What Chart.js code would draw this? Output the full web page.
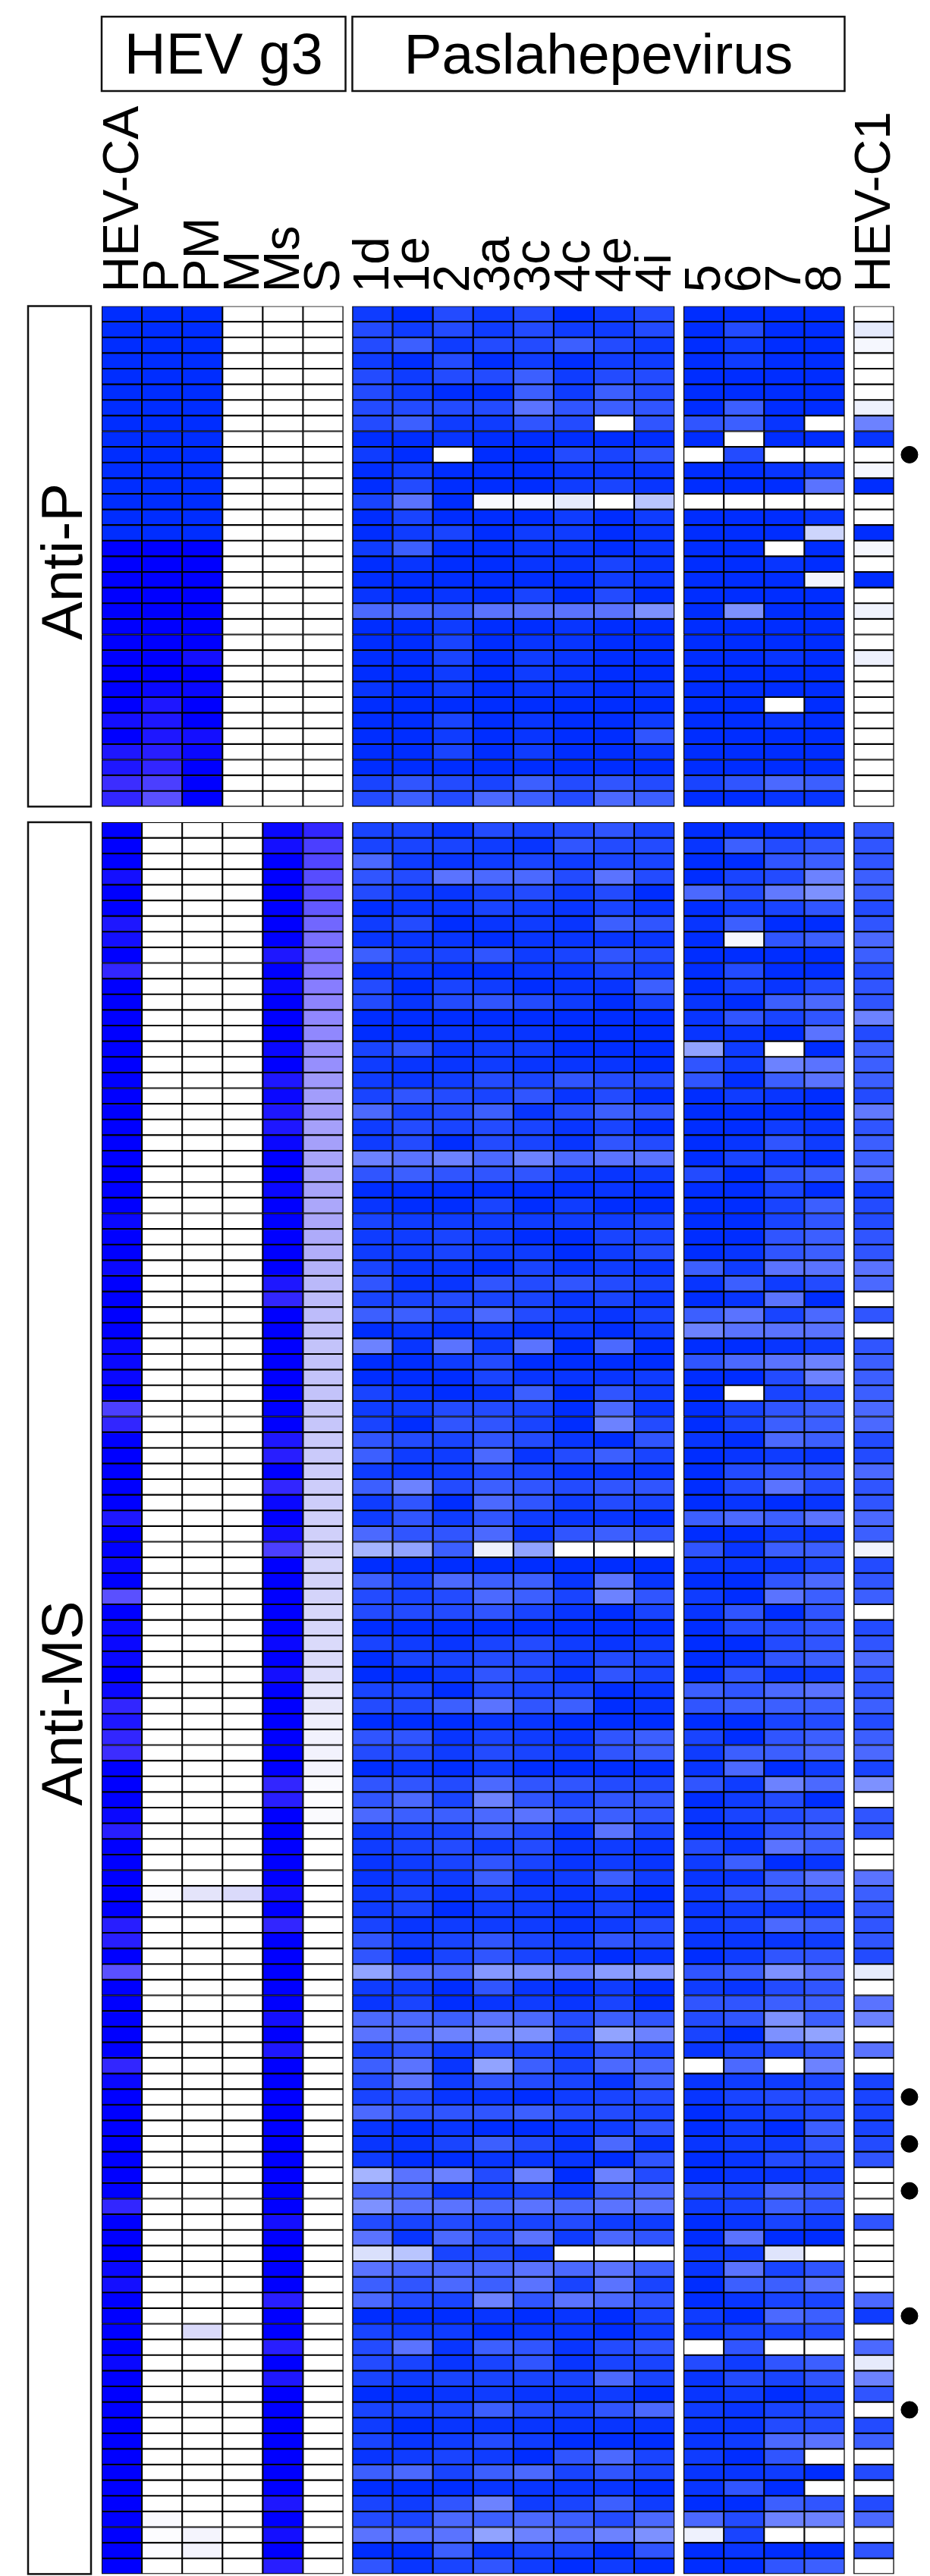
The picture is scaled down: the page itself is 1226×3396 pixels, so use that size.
<!DOCTYPE html>
<html>
<head>
<meta charset="utf-8">
<title>HEV g3 / Paslahepevirus reactivity</title>
<script src="https://cdn.jsdelivr.net/npm/chart.js@4"></script>
<style>
  html, body { margin: 0; padding: 0; background: #fff; }
  canvas { display: block; }
</style>
</head>
<body>
<canvas id="heatChart" width="1226" height="3396"></canvas>
<script>
// column labels, split in the four blocks of the figure
const hevG3Labels = ['HEV-CA', 'P', 'PM', 'M', 'Ms', 'S'];
const paslaLabels = ['1d', '1e', '2', '3a', '3c', '4c', '4e', '4i'];
const otherLabels = ['5', '6', '7', '8'];
const c1Labels = ['HEV-C1'];

// levels: 0 = white, 9 = full signal
const antiPHevCa = [9,9,9,9,9,9,9,9,9,9,9,9,9,9,9,9,9,9,9,9,9,9,9,9,9,9,8,9,7.5,7.5,6,6.5];
const antiPP = [9,9,9,9,9,9,9,9,9,9,9,9,9,9,9,9,9,9,9,9,9,9,9,9,8.5,7.5,7.5,7.5,7,6.5,5.5,5];
const antiPPm = [9,9,9,9,9,9,9,9,9,9,9,9,9,9,9,9,9,9,9,9,9,9,8,9,8.5,9,9,8,8.5,9,9,9];
const antiPBlank = [0,0,0,0,0,0,0,0,0,0,0,0,0,0,0,0,0,0,0,0,0,0,0,0,0,0,0,0,0,0,0,0];

const antiMsHevCa = [
  9,9,9,8,9,9,7.5,8,9,6.5,9,9,9,9,9,9,9,9,9,9,9,9,9,9,9,8.5,9,9,
  8.5,9,9,9,9,8.5,8.5,8.5,9,5.5,6.5,9,9,9,9,9,7.5,9,9,8.5,9,5,9,8.5,8.5,8.5,9,8.5,6.5,
  7.5,6.5,6,9,9,9,8.5,7,9,9,9,9,9,7,7,9,5,9,9,9,9,9,6.5,8.5,9,9,9,9,9,
  9,9,6.5,9,9,9,8.5,8,9,9,9,9,8.5,9,9,9,9,9,9,9,9,9,9,9,9,9
];
const antiMsP = [
  0,0,0,0,0,0,0,0,0,0,0,0,0,0,0,0,0,0,0,0,0,0,0,0,0,0,0,0,
  0,0,0,0,0,0,0,0,0,0,0,0,0,0,0,0,0,0,0,0,0,0,0,0,0,0,0,0,0,
  0,0,0,0,0,0,0,0,0,0,0,0.2,0,0,0,0,0,0,0,0,0,0,0,0,0,0,0,0,0,
  0,0,0,0,0,0,0,0,0,0,0,0,0,0,0,0,0,0,0,0,0,0,0.2,0.1,0.1,0
];
const antiMsPm = [
  0,0,0,0,0,0,0,0,0,0,0,0,0,0,0,0,0,0,0,0,0,0,0,0,0,0,0,0,
  0,0,0,0,0,0,0,0,0,0,0,0,0,0,0,0,0,0,0,0,0,0,0,0,0,0,0,0,0,
  0,0,0,0,0,0,0,0,0,0,0,1,0,0,0,0,0,0,0,0,0,0,0,0,0,0,0,0,0,
  0,0,0,0,0,0,0,0,0,0,1.3,0,0,0,0,0,0,0,0,0,0,0,0,0.4,0.4,0
];
const antiMsM = [
  0,0,0,0,0,0,0,0,0,0,0,0,0,0,0,0,0,0,0,0,0,0,0,0,0,0,0,0,
  0,0,0,0,0,0,0,0,0,0,0,0,0,0,0,0,0,0,0,0,0,0,0,0,0,0,0,0,0,
  0,0,0,0,0,0,0,0,0,0,0,1.3,0,0,0,0,0,0,0,0,0,0,0,0,0,0,0,0,0,
  0,0,0,0,0,0,0,0,0,0,0,0,0,0,0,0,0,0,0,0,0,0,0,0,0,0
];
const antiMsMs = [
  8.5,8,9,9,9,9,9,9,7.5,9,8.5,9,9,9,8.5,9,7.5,8.5,7.5,7.5,8.5,9,9,8.5,9,9,9,9,
  9,7.5,6.5,9,9,9,9,9,9,9,9,7.5,7,9,6.5,8.5,9,8,5.5,9,9,9,9,9,8.5,9,8,9,9,
  9,9,9,9,6.5,7,9,9,9,9,9,8,9,6.5,9,9,9,9,9,8,9,7.5,9,9,9,9,9,9,9,
  9,9,9,8,9,9,9,9,7,9,9,7,9,7.5,9,9,9,9,9,9,9,7.5,9,8,9,7
];
const antiMsS = [
  6.5,5.5,5.3,5.1,5,4.8,4.5,4.3,4.3,4.1,4,3.8,3.7,3.7,3.5,3.5,3.2,3.1,3.1,3,3,2.9,2.9,2.9,2.8,2.8,2.7,2.6,
  2.5,2.3,2.2,2.2,2.1,2,2,2,2,1.9,1.9,1.8,1.8,1.7,1.7,1.7,1.6,1.6,1.6,1.5,1.5,1.5,1.4,1.4,1.3,1.3,1.2,1,0.9,
  0.6,0.5,0.5,0.4,0.2,0.1,0.2,0.05,0,0,0,0,0,0,0,0,0,0,0,0,0,0,0,0,0,0,0,0,0,0,0,
  0,0,0,0,0,0,0,0,0,0,0,0,0,0,0,0,0,0,0,0,0,0,0,0,0,0
];

// rows: 1d 1e 2 3a 3c 4c 4e 4i, 5 6 7 8, HEV-C1
const antiPRows = [
  [8,9,7,8,7,9,8,7, 9,9,9,9, 0],
  [7,8,7,8,7,8,8,7, 9,7,9,9, 1],
  [7,6,8,7,7,6,7,8, 9,8,9,9, 0.4],
  [8,9,7,9,8,9,8,8, 9,8,9,9, 0],
  [7,8,7,7,6,8,7,7, 9,9,9,9, 0],
  [7,8,9,9,6,8,6,7, 9,9,9,9, 0],
  [7,7,7,7,5,6.5,6,6.5, 9,6,9,9, 0.7],
  [7,6,8,8,6.5,7,0,6.5, 6.5,6,8.5,0, 4.5],
  [9,9,8.5,9,9,9,9,9, 9,0,9,9, 8.5],
  [8,9,0,9,9,7,7.5,6.5, 0,7,0,0, 0],
  [9,8,9,9,9,8.5,8.5,8.5, 9,9,8.5,8, 0.4],
  [9,7,9,9,9,8,7.5,8.5, 9,9,9,5, 9],
  [7.5,5,9,0.3,0.3,1,0,2.5, 0,0,0,0, 0],
  [9,7.5,9,9,9,8,9,8, 9,9,9,8.5, 0],
  [9,8,7.5,9,8,8,9,8.5, 9,9,9,2, 9],
  [8,6,9,9,8.5,8.5,9,8.5, 9,9,0,9, 0.4],
  [9,8.5,9,9,8.5,8.5,7.5,8.5, 9,9,8.5,9, 0],
  [9,9,9,9,9,9,8,8.5, 9,9,9,0.5, 9],
  [8.5,9,8.5,9,7.5,9,7,9, 9,9,9,9, 0],
  [5.5,5.5,6,5,5,5,5,4, 9,4,9,9, 0.6],
  [9,9,8,9,9,8.5,9,9, 9,9,9,9, 0],
  [9,9,7.5,9,8.5,8.5,9,9, 9,9,9,9, 0],
  [9,9,7.5,9,8,8.5,9,9, 9,9,8.5,9, 0.7],
  [9,9,8,9,8,8.5,9,9, 9,9,9,9, 0],
  [8.5,9,8,9,8.5,8.5,9,8.5, 9,9,9,9, 0],
  [9,9,9,9,9,9,9,9, 9,9,0,9, 0],
  [9,9,7.5,9,8.5,9,9,8, 9,9,8.5,9, 0],
  [9,9,8,9,8.5,9,9,6.5, 9,9,9,9, 0],
  [9,9,7.5,9,8,9,9,8.5, 9,9,9,9, 0],
  [9,9,9,9,9,9,9,9, 9,9,9,9, 0],
  [7.5,6.5,7,7.5,6,7,6.5,7, 7.5,6.5,5.5,6, 0],
  [7,6,7,5.5,6,7,5.5,6, 9,9,8.5,8.5, 0]
];

const antiMsRows = [
  [7.5,7.5,8.5,7,7.5,7,6.5,7.5, 9,9,9,8.5, 6.5],
  [7.5,7.5,7.5,8,8.5,6.5,7,7, 8.5,6,7,6.5, 6.5],
  [5.5,8,8.5,8,7.5,8,7.5,7.5, 9,9,6.5,6, 6.5],
  [6.5,7,5,5.5,5.5,7,5,7, 9,7.5,7,4.5, 6],
  [7,8,8.5,7.5,7,8,7,9, 5.5,7,4.8,4, 6],
  [9,8.5,8.5,7.5,8,8.5,7.5,8.5, 9,8,7.5,6.5, 7],
  [8,7,9,8.5,8,8.5,6,6.5, 8.5,6,9,9, 6.5],
  [8.5,8.5,8.5,9,8.5,8.5,8.5,8.5, 9,0.4,6.5,6, 5.5],
  [6,7.5,7.5,6.5,8,7.5,6.5,7, 9,9,9,9, 6],
  [9,8.5,9,9,8.5,8.5,7.5,8, 9,7,9,9, 7],
  [7,9,7.5,8,9,8.5,8.5,6, 9,7.5,8.5,7, 6.5],
  [7,8.5,7,6.5,7,8,9,7.5, 8.5,9,6,5.5, 6.5],
  [9,9,9,9,9,9,9,9, 8.5,6.5,7.5,6.5, 4.5],
  [9,9,8.5,8.5,8.5,9,9,9, 8.5,8.5,9,5, 7],
  [7.5,6.5,8.5,8,8,9,9,9, 3.5,8,0,9, 6],
  [8,8.5,8.5,8,8.5,8.5,8.5,9, 6.5,8,4.5,5, 6],
  [8,8.5,8,7,7.5,6.5,7,7, 6.5,9,6,5, 6],
  [7.5,6.5,7,7.5,6.5,8.5,7,9, 9,8,8.5,9, 7],
  [5.5,7.5,7,6,8.5,7,6,6.5, 9,9,9,9, 4.8],
  [8,7,7.5,7,7.5,8.5,7.5,9, 9,9,8,8.5, 6.5],
  [8,7,9,7,7.5,8.5,6.5,7, 9,8.5,6.5,8, 6],
  [4.5,5,4.5,5.5,4.5,5.5,5,5, 9,7.5,8.5,9, 6],
  [6.5,6,6.5,6.5,6.5,8,8.5,8, 7,9,6.5,6, 5],
  [9,9,9,9,9,9,8.5,9, 9,9,7.5,9, 8],
  [8.5,9,9,7.5,9,8,9,9, 9,9,7.5,6, 7],
  [7.5,8,8,8,8,8,8,7.5, 9,9,7.5,6.5, 7],
  [8,8,7.5,8,9,9,7.5,7.5, 9,9,6.5,6, 6.5],
  [8,8,7.5,8,8,9,8,7, 9,8.5,6.5,6, 6.5],
  [7.5,8.5,8.5,9,7.5,8.5,8,8.5, 6,8,5,5, 5],
  [6.5,8.5,8.5,6.5,7,6.5,7,7.5, 8.5,6,8,7, 5.5],
  [7.5,7.5,7,7.5,7.5,8.5,7.5,8.5, 9,8.5,5,9, 0],
  [6,6,7,5.5,7,8,8.5,7.5, 6,5,7.5,5.5, 6.5],
  [9,8.5,9,8.5,9,8.5,9,8, 4.5,5,5,5, 0],
  [4.5,8.5,5,8,5,9,5.5,9, 9,9,8.5,8, 6.5],
  [9,9,8,7,9,9,9,9, 6.5,5.5,5,4.5, 6],
  [9,9,9,7.5,8.5,8.5,8.5,8, 9,9,7,4.5, 6],
  [7.5,8.5,9,8.5,6,9,6.5,8, 9,0,7.5,7, 6],
  [8,8,7,7,7.5,9,5.5,8.5, 9,7.5,6.5,6, 5.5],
  [7.5,9,6.5,6.5,7.5,9,4.5,7, 9,7.5,6,6, 5.5],
  [6.5,7,7.5,6.5,7,8.5,9,6.5, 8.5,9,5.5,6, 7],
  [6,8,8,5.5,8.5,7,6,7.5, 9,8.5,8,8.5, 7],
  [8,8.5,8,7,7.5,8.5,8.5,8.5, 9,7,6.5,6.5, 5.5],
  [6,4.5,7,6,6.5,7,6.5,6.5, 9,7,5,7, 6.5],
  [8,6.5,9,5.5,6.5,8,7,7.5, 9,8.5,9,8.5, 6.5],
  [8,6.5,8,6.5,8,8.5,8.5,9, 6,5.5,6,5, 5.5],
  [5.5,6.5,6.5,5.5,8.5,6.5,6,6.5, 9,9,8,8.5, 6],
  [3,3.5,6,0.7,3.5,0,0,0, 6.5,8.5,6,6, 0.6],
  [9,9,9,9,9,9,9,9, 8.5,8.5,8.5,7.5, 7],
  [6,7.5,5.5,6,6,8.5,5,8.5, 9,9,6.5,5.5, 6.5],
  [7,7.5,7,5.5,6,7.5,4.5,6.5, 8,9,5,6, 6],
  [7,7,7,6.5,7.5,8.5,9,7.5, 8.5,6.5,9,6.5, 0],
  [9,9,9,9,9,9,9,9, 9,7,7,6.5, 7],
  [7.5,8,8.5,7.5,7,8,8.5,8, 9,9,7,6.5, 6.5],
  [9,7.5,7.5,7,7,8,7,7.5, 9,8.5,6.5,6, 5.5],
  [9,9,8,6.5,7,8.5,6.5,7.5, 9,6.5,8.5,8, 6.5],
  [7.5,7.5,9,7,7.5,7.5,9,8.5, 6,6.5,5.5,5, 6.5],
  [7,7,6,5,6.5,6,9,8.5, 6.5,6,6,6, 6],
  [9,9,9,8.5,8.5,9,9,9, 9,9,7.5,7, 7],
  [6.5,6.5,8.5,7.5,8,8.5,6.5,6, 7.5,9,6.5,6, 6],
  [7,7,8,7,7.5,8,6.5,6, 8,6,6,5.5, 5.5],
  [9,8.5,9,8,9,9,9,9, 8.5,5.5,9,8, 7.5],
  [6.5,6.5,7,5.5,6.5,6.5,7,7, 6.5,8,4.5,5.5, 4],
  [6.5,5.5,7.5,4.5,6.5,7.5,6.5,6.5, 9,8,7,9, 0],
  [5.5,6,6,5.5,5,6,6,6.5, 8.5,7.5,7,6.5, 6.5],
  [8,7.5,7.5,6,7,8.5,5,7.5, 9,8.5,6.5,6, 6.5],
  [8,7.5,7,8,7,8.5,8,8.5, 7,8.5,5,6, 0],
  [8.5,8,7.5,6.5,7.5,8.5,8,8.5, 8,6,9,8.5, 0],
  [8.5,8,8,6,8.5,8,6,8, 8.5,8.5,6,5, 5],
  [8,7.5,8.5,7.5,8,8.5,8,9, 8,6.5,6,6, 6],
  [8,7.5,9,8,8,8.5,7.5,8.5, 8.5,8,8.5,8.5, 6.5],
  [7.5,8.5,8,8,8,8.5,8,7, 8,7.5,5.5,6, 6.5],
  [6.5,8,7.5,6.5,7.5,8,6.5,7, 8.5,8.5,8.5,8, 6.5],
  [6.5,9,7.5,6.5,7.5,8,9,8.5, 9,8,6.5,6.5, 7],
  [3.5,5,5.5,3.8,4,4.5,3.7,3.7, 6.5,6,4,5, 1],
  [8,8,9,6.5,8.5,9,8,9, 8,8.5,7,6.5, 0],
  [8.5,7.5,9,8.5,8,8.5,7.5,9, 6.5,6.5,6,6, 5],
  [5.5,5.5,6,5,5.5,7,6,6.5, 7,6.5,4,6, 4.5],
  [5,5,4.5,4,4,6.5,3.5,4.5, 7.5,9,4,3.5, 0],
  [7.5,6.5,8,7,7.5,8,6.5,7.5, 8.5,7.5,7,6.5, 5],
  [6,5,8.5,3.5,6,7.5,5.5,5.5, 0,5.5,0,4.5, 0],
  [7,5,8,6.5,7,7.5,8.5,6, 8.5,8,8,7.5, 7.5],
  [7.5,7,8.5,8.5,9,8,7.5,7, 8.5,7.5,7,7, 7.5],
  [5.5,6.5,6.5,6.5,6,7,7,7.5, 9,8,7.5,7, 7.5],
  [8.5,9,8.5,9,9,8.5,8,6.5, 9,8,9,6, 7.5],
  [8.5,8.5,7.5,6,7,8.5,5.5,8.5, 8.5,8,8,6.5, 7],
  [8,9,9,8.5,8.5,8.5,9,6.5, 9,8.5,7,7, 6.5],
  [3,5,4.5,7,4.5,9,4.5,7, 9,8.5,8.5,8, 0],
  [5.5,6,8.5,8,7.5,8.5,6,5.5, 7,7.5,5.5,6, 0],
  [4,5,5,5.5,5,5.5,5,5, 8,7.5,6,6.5, 0],
  [7,7.5,7,7.5,7.5,7,8,8, 9,8.5,7.5,8, 6.5],
  [5,8.5,5.5,7,5,8,5.5,6.5, 9,5,9,9, 0],
  [1.5,2.5,7.5,7,8,0,0,0, 8,8,1.3,0, 0],
  [5,5.5,5.5,5.5,5,5.5,5,6, 8.5,5,7.5,6.5, 0],
  [6,6.5,5.5,6,5,7.5,5,7.5, 9,6,6,5, 0],
  [5.5,7,7.5,4.5,6.5,5,5.5,6.5, 9,8.5,7.5,7.5, 5.5],
  [9,9,9,8.5,9,8.5,9,7.5, 8,9,5.5,6, 8],
  [7.5,8,8,9,8.5,8.5,9,8, 8.5,7.5,7.5,7, 0],
  [7,5,8.5,6,6.5,8.5,7,6.5, 0,6.5,0,0, 5.5],
  [7,7.5,8.5,7.5,6.5,8.5,7.5,7.5, 7,8,6.5,6, 1],
  [7.5,8,7.5,7.5,7.5,7.5,5.5,7.5, 8.5,7,7.5,6.5, 4.5],
  [9,9,8.5,8,8.5,8.5,8,9, 8.5,8,9,8, 6.5],
  [7.5,7.5,7.5,6,7,7.5,6.5,5.5, 8,8.5,7.5,7, 0],
  [8,9,8.5,8.5,8.5,8.5,8.5,8.5, 8.5,8.5,7,7, 7],
  [7.5,8.5,8,7,8,9,9,9, 8.5,8,5.5,5, 6],
  [8.5,8,7.5,8,9,6.5,5.5,7.5, 8,9,6.5,0, 0],
  [6,5.5,7.5,6,5.5,7.5,6.5,7.5, 8.5,8.5,8,9, 7],
  [9,9,9,8.5,8.5,8.5,8.5,9, 8.5,6.5,9,0, 0],
  [7.5,8,6.5,4.5,8,7.5,6,8, 9,9,6,6.5, 7],
  [7,7.5,5.5,6,5.5,6,7,5.5, 5.5,7,4.5,4.5, 5.5],
  [5,5,5,3.5,4.5,5,4.5,4, 0.7,7.5,0,0, 0],
  [9,9,6,8.5,7.5,7.5,9,6.5, 9,8.5,9,9, 6.5],
  [6.5,8.5,7.5,6.5,8,9,8,9, 9,9,6.5,6, 0]
];

// serum rows flagged with a dot
const antiPDots = [9];
const antiMsDots = [81, 84, 87, 95, 101];

// first rows of anti-P against HEV-CA, P, PM are greener than the rest of that block
const azureRowsAntiP = 15;

const azureStops = [[255,255,255],[230,235,252],[205,213,252],[165,180,255],[125,145,255],[90,115,255],[60,95,255],[35,75,255],[15,60,255],[0,45,255]];
const violetStops = [[255,255,255],[228,228,250],[195,195,250],[165,160,250],[135,125,255],[90,80,255],[60,45,255],[40,30,255],[20,15,255],[0,0,255]];

function levelColor(stops, v) {
  const lo = Math.floor(v), hi = Math.min(9, lo + 1), t = v - lo;
  const c = stops[lo].map((s, i) => Math.round(s + (stops[hi][i] - s) * t));
  return `rgb(${c[0]},${c[1]},${c[2]})`;
}

// y categories: anti-P rows, one empty row, anti-MS rows
const rowLabels = [];
antiPRows.forEach((r, i) => rowLabels.push('P' + (i + 1)));
rowLabels.push('gap');
antiMsRows.forEach((r, i) => rowLabels.push('MS' + (i + 1)));
const msOffset = antiPRows.length + 1;

const antiPG3 = [antiPHevCa, antiPP, antiPPm, antiPBlank, antiPBlank, antiPBlank];
const antiMsG3 = [antiMsHevCa, antiMsP, antiMsPm, antiMsM, antiMsMs, antiMsS];

function g3Dataset(col) {
  return {
    label: hevG3Labels[col],
    data: rowLabels.map((l) => (l === 'gap' ? null : 1)),
    backgroundColor: (ctx) => {
      const i = ctx.dataIndex;
      if (i < antiPRows.length) {
        const stops = (col < 3 && i < azureRowsAntiP) ? azureStops : violetStops;
        return levelColor(stops, antiPG3[col][i]);
      }
      if (i < msOffset) return 'transparent';
      return levelColor(violetStops, antiMsG3[col][i - msOffset]);
    }
  };
}

function cellDataset(label, col) {
  return {
    label: label,
    data: rowLabels.map((l) => (l === 'gap' ? null : 1)),
    backgroundColor: (ctx) => {
      const i = ctx.dataIndex;
      if (i < antiPRows.length) return levelColor(azureStops, antiPRows[i][col]);
      if (i < msOffset) return 'transparent';
      return levelColor(azureStops, antiMsRows[i - msOffset][col]);
    }
  };
}

function spacerDataset(width) {
  return {
    label: 'gap',
    data: rowLabels.map(() => width),
    backgroundColor: 'transparent',
    borderWidth: 0
  };
}

const blockGap = 0.225;
const xMax = 20.57;
const dotX = 20.06;

const barDatasets = [
  ...hevG3Labels.map((l, i) => g3Dataset(i)),
  spacerDataset(blockGap),
  ...paslaLabels.map((l, i) => cellDataset(l, i)),
  spacerDataset(blockGap),
  ...otherLabels.map((l, i) => cellDataset(l, i + 8)),
  spacerDataset(blockGap),
  cellDataset(c1Labels[0], 12)
];

const dotDataset = {
  type: 'scatter',
  label: 'dots',
  indexAxis: 'y',
  stack: 'dots',
  clip: false,
  data: [
    ...antiPDots.map((r) => ({ x: dotX, y: 'P' + (r + 1) })),
    ...antiMsDots.map((r) => ({ x: dotX, y: 'MS' + (r + 1) }))
  ],
  pointRadius: 11,
  backgroundColor: '#000',
  borderColor: '#000'
};

// x positions of the column centres, walking the same stack as the bars
const columnLabels = [];
const columnCentres = [];
let xWalk = 0;
[hevG3Labels, paslaLabels, otherLabels, c1Labels].forEach((block) => {
  block.forEach((l) => {
    columnLabels.push(l);
    columnCentres.push(xWalk + 0.5);
    xWalk += 1;
  });
  xWalk += blockGap;
});

function boxedText(ctx, left, top, right, bottom, text, size, vertical) {
  ctx.save();
  ctx.lineWidth = 2.5;
  ctx.strokeStyle = '#111';
  ctx.strokeRect(left, top, right - left, bottom - top);
  ctx.fillStyle = '#000';
  ctx.font = size + 'px "Liberation Sans", Arial, sans-serif';
  ctx.textAlign = 'center';
  ctx.textBaseline = 'alphabetic';
  if (vertical) {
    // sits a little below the middle of the frame in the original
    ctx.translate((left + right) / 2 + 29.5, (top + bottom) / 2 + 7);
    ctx.rotate(-Math.PI / 2);
    ctx.fillText(text, 0, 0);
  } else {
    ctx.fillText(text, (left + right) / 2, top + 75);
  }
  ctx.restore();
}

const framePlugin = {
  id: 'frames',
  afterDraw(chart) {
    const { ctx, scales } = chart;
    const x = scales.x, y = scales.y;
    const rowH = y.getPixelForValue(1) - y.getPixelForValue(0);
    const pTop = y.getPixelForValue(0) - rowH / 2;
    const pBottom = y.getPixelForValue(antiPRows.length - 1) + rowH / 2;
    const mTop = y.getPixelForValue(msOffset) - rowH / 2;
    const mBottom = y.getPixelForValue(rowLabels.length - 1) + rowH / 2;

    boxedText(ctx, 37, pTop, 120, pBottom, 'Anti-P', 76, true);
    boxedText(ctx, 37, mTop, 120, mBottom, 'Anti-MS', 76, true);
    boxedText(ctx, x.getPixelForValue(0), 22, x.getPixelForValue(6) + 3, 120, 'HEV g3', 76, false);
    boxedText(ctx, x.getPixelForValue(6 + blockGap), 22, x.getPixelForValue(14 + 2 * blockGap + 4), 120, 'Paslahepevirus', 75, false);
  }
};

new Chart(document.getElementById('heatChart'), {
  type: 'bar',
  data: {
    labels: rowLabels,
    datasets: [...barDatasets, dotDataset]
  },
  options: {
    indexAxis: 'y',
    responsive: false,
    animation: false,
    devicePixelRatio: 1,
    layout: { autoPadding: false, padding: { left: 134, right: 0, top: 0, bottom: 2.6 } },
    datasets: {
      bar: {
        categoryPercentage: 1,
        barPercentage: 1,
        borderColor: '#000',
        borderWidth: 1.4,
        borderSkipped: false
      }
    },
    plugins: {
      legend: { display: false },
      tooltip: { enabled: false }
    },
    scales: {
      x: {
        type: 'linear',
        position: 'top',
        stacked: true,
        min: 0,
        max: xMax,
        grid: { display: false },
        border: { display: false },
        afterBuildTicks: (axis) => { axis.ticks = columnCentres.map((v) => ({ value: v })); },
        afterFit: (axis) => {
          axis.height = 403.5;
          axis.paddingLeft = 0;
          axis.paddingRight = 0;
        },
        ticks: {
          autoSkip: false,
          minRotation: 90,
          maxRotation: 90,
          padding: 10,
          labelOffset: 82,
          color: '#000',
          font: { family: '"Liberation Sans", Arial, sans-serif', size: 66 },
          callback: (v, i) => columnLabels[i]
        }
      },
      y: {
        type: 'category',
        stacked: true,
        display: false
      }
    }
  },
  plugins: [framePlugin]
});
</script>
</body>
</html>
